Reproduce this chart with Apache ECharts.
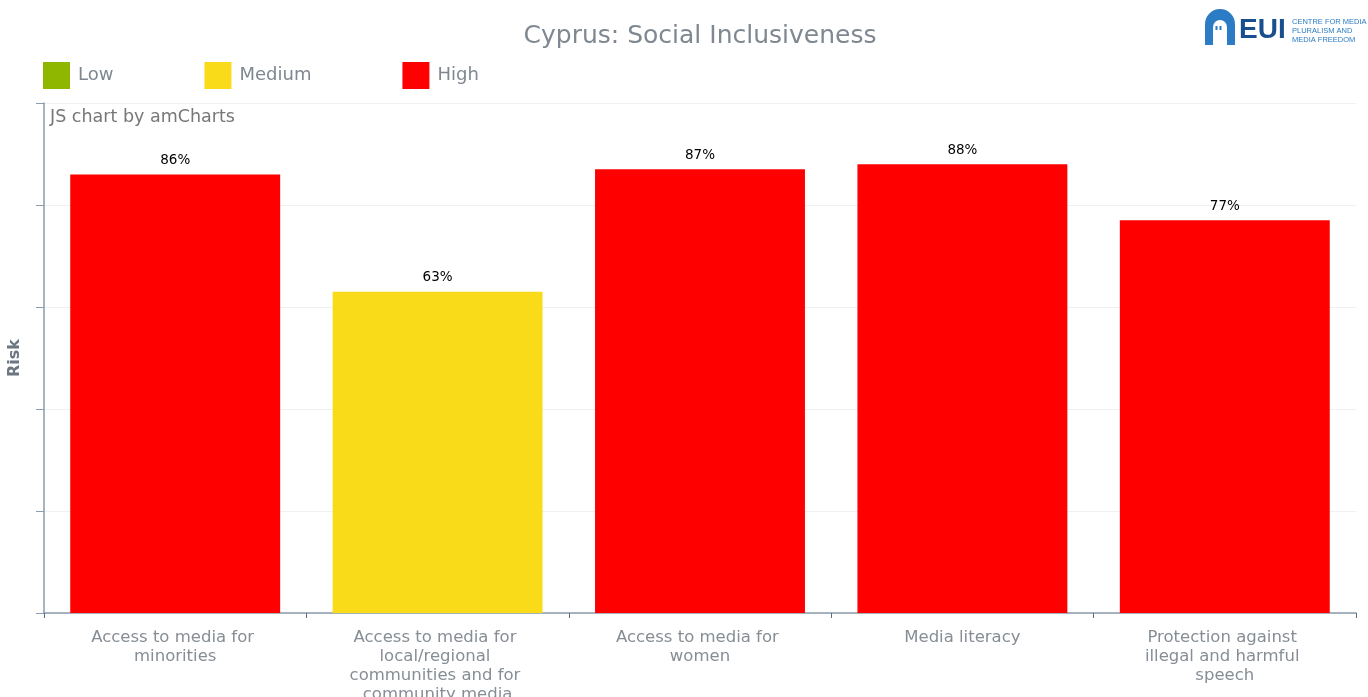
<!DOCTYPE html>
<html>
<head>
<meta charset="utf-8">
<script src="https://cdn.jsdelivr.net/npm/echarts@6/dist/echarts.min.js"></script>
<style>
html,body{margin:0;padding:0;background:#fff;}
#chart{width:1368px;height:697px;}
</style>
</head>
<body>
<div id="chart"></div>
<script>
const categories = [
  'Access to media for minorities',
  'Access to media for local/regional communities and for community media',
  'Access to media for women',
  'Media literacy',
  'Protection against illegal and harmful speech'
];
const riskValues = [86, 63, 87, 88, 77];
const riskLevels = ['High', 'Medium', 'High', 'High', 'High'];
const levelNames = ['Low', 'Medium', 'High'];
const levelColors = ['#8fb700', '#fadb1a', '#ff0000'];
const yTicks = [0, 20, 40, 60, 80, 100];

const chart = echarts.init(document.getElementById('chart'));
const FONT = 'DejaVu Sans';

const series = levelNames.map((lvl, i) => ({
  name: lvl,
  type: 'bar',
  stack: 'risk',
  barCategoryGap: '20%',
  itemStyle: { color: levelColors[i] },
  label: {
    show: true,
    position: 'top',
    distance: 7,
    formatter: p => p.value + '%',
    color: '#000',
    fontFamily: FONT,
    fontSize: 13.5
  },
  data: riskValues.map((v, j) => riskLevels[j] === lvl ? v : null)
}));

chart.setOption({
  animation: false,
  textStyle: { fontFamily: FONT },
  title: {
    text: 'Cyprus: Social Inclusiveness',
    left: 700,
    textAlign: 'center',
    top: 24,
    padding: 0,
    textStyle: { color: '#7f8891', fontSize: 25, fontWeight: 'normal', fontFamily: FONT }
  },
  legend: {
    left: 43,
    top: 62,
    padding: 0,
    itemWidth: 27,
    itemHeight: 27,
    itemGap: 91,
    icon: 'rect',
    data: levelNames,
    textStyle: { color: '#7f8891', fontSize: 18, fontFamily: FONT, padding: [0, 0, 0, 3] }
  },
  grid: { left: 44, right: 12, top: 103, bottom: 84, containLabel: false, outerBoundsMode: 'none' },
  xAxis: {
    type: 'category',
    data: categories,
    axisLine: { lineStyle: { color: '#8a9cab', width: 1.5 } },
    axisTick: { show: true, length: 5, lineStyle: { color: '#4f6f8a' } },
    axisLabel: {
      interval: 0,
      color: '#868d94',
      fontSize: 16.5,
      fontFamily: FONT,
      lineHeight: 19,
      margin: 15,
      width: 185,
      overflow: 'break'
    }
  },
  yAxis: {
    type: 'value',
    min: yTicks[0],
    max: yTicks[yTicks.length - 1],
    interval: 20,
    name: 'Risk',
    nameLocation: 'middle',
    nameGap: 21,
    nameTextStyle: { color: '#6c7680', fontSize: 16, fontWeight: 'bold', fontFamily: FONT },
    axisLine: { show: true, lineStyle: { color: '#8a9cab', width: 1.5 } },
    axisTick: { show: true, length: 8, lineStyle: { color: '#8a9cab' } },
    axisLabel: { show: false },
    splitLine: { lineStyle: { color: '#f0f0f0' } }
  },
  series: series,
  graphic: [
    {
      type: 'text',
      left: 50,
      top: 108,
      style: { text: 'JS chart by amCharts', fill: '#777', fontSize: 17.5, fontFamily: FONT }
    },
    {
      type: 'group',
      left: 1205,
      top: 9,
      children: [
        { type: 'rect', shape: { x: 0, y: 0, width: 30, height: 36, r: [15, 15, 0, 0] }, style: { fill: '#2b7cc4' } },
        { type: 'rect', shape: { x: 8, y: 11, width: 14, height: 25, r: [7, 7, 0, 0] }, style: { fill: '#fff' } },
        { type: 'rect', shape: { x: 10.5, y: 17, width: 2, height: 4 }, style: { fill: '#2b7cc4' } },
        { type: 'rect', shape: { x: 14.5, y: 17, width: 2, height: 4 }, style: { fill: '#2b7cc4' } },
        { type: 'text', x: 34, y: 7, style: { text: 'EUI', fill: '#1a4f8f', fontSize: 28, fontWeight: 'bold', fontFamily: 'Liberation Sans' } },
        { type: 'text', x: 87, y: 8, style: { text: 'CENTRE FOR MEDIA\nPLURALISM AND\nMEDIA FREEDOM', fill: '#2b7cc4', fontSize: 7.5, lineHeight: 9, fontFamily: 'Liberation Sans' } }
      ]
    }
  ]
});
</script>
</body>
</html>
